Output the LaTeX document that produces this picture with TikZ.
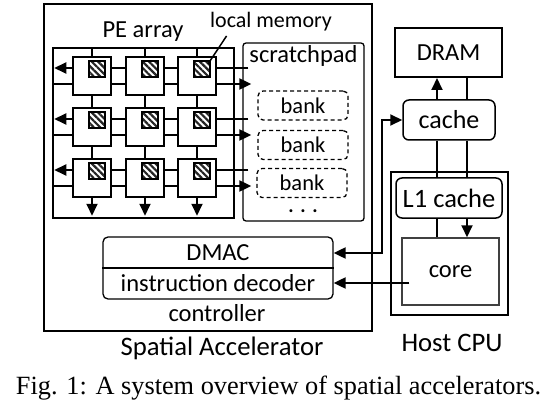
\documentclass[tikz,border=0pt]{standalone}
\usepackage{fontspec}
\setmainfont{Carlito}
\newfontfamily\capfont{Liberation Serif}
\usetikzlibrary{arrows.meta,positioning,calc,patterns.meta,backgrounds}

\tikzset{
    wire/.style={line width=2pt},
    box/.style={draw, line width=2pt, inner sep=0pt},
    rbox/.style={box, rounded corners=6pt, line width=1.5pt},
    pe/.style={box, fill=white, minimum size=38pt},
    locmem/.style={draw, line width=1.5pt, minimum size=16pt, inner sep=0pt,
        preaction={fill=white}, pattern={Lines[angle=-45,distance=4.5pt,line width=2.2pt]},
        pattern color=black!85},
    bank/.style={draw, dashed, dash pattern=on 4pt off 3pt, line width=1.3pt,
        rounded corners=5pt, minimum width=90pt, minimum height=29pt, inner sep=0pt,
        font=\fontsize{22.5}{27}\selectfont},
    biglabel/.style={font=\fontsize{26.7}{32}\selectfont},
}

\begin{document}
\begin{tikzpicture}[x=1pt,y=-1pt,font=\fontsize{24.5}{29}\selectfont,
    >={Triangle[length=12pt,width=11pt]}]
\useasboundingbox (0,0) rectangle (557,409);

% spatial accelerator
\node[box, minimum width=328pt, minimum height=327pt] (acc) at (208,167.5) {};
\node[biglabel] (acclabel) at (222,348) {Spatial Accelerator};

% PE array
\node[box, line width=1.5pt, minimum width=181pt, minimum height=170pt] (arr) at (143.5,133) {};
\node (arrlabel) at (143,32) {PE array};

\node[pe] (pe11) at (92,76) {};
\node[pe] (pe12) at (145,76) {};
\node[pe] (pe13) at (197,76) {};
\node[pe] (pe21) at (92,127) {};
\node[pe] (pe22) at (145,127) {};
\node[pe] (pe23) at (197,127) {};
\node[pe] (pe31) at (92,178) {};
\node[pe] (pe32) at (145,178) {};
\node[pe] (pe33) at (197,178) {};

\node[locmem] (m11) at ($(pe11)+(5,-7)$) {};
\node[locmem] (m12) at ($(pe12)+(5,-7)$) {};
\node[locmem] (m13) at ($(pe13)+(5,-7)$) {};
\node[locmem] (m21) at ($(pe21)+(5,-7)$) {};
\node[locmem] (m22) at ($(pe22)+(5,-7)$) {};
\node[locmem] (m23) at ($(pe23)+(5,-7)$) {};
\node[locmem] (m31) at ($(pe31)+(5,-7)$) {};
\node[locmem] (m32) at ($(pe32)+(5,-7)$) {};
\node[locmem] (m33) at ($(pe33)+(5,-7)$) {};

\node[font=\fontsize{22}{26}\selectfont] (lmlabel) at (271,22) {local memory};
\draw[line width=1.5pt] ($(m13)+(6,-5)$) -- ($(lmlabel.south west)+(20,1)$);

% scratchpad
\node[draw, line width=1.3pt, rounded corners=3pt, minimum width=121pt, minimum height=178pt] (scratch) at (303.5,132) {};
\node[below=0pt of scratch.north] (splabel) {scratchpad};
\node[bank] (bank1) at (303,105.5) {bank};
\node[bank] (bank2) at (303,145) {bank};
\node[bank] (bank3) at (302,183) {bank};
\node[inner sep=0pt, font=\fontsize{20}{24}\selectfont] (bdots) at (303,211) {\textbf{.\,\,.\,\,.}};

\begin{pgfonlayer}{background}
\draw[wire,->] (pe11 |- arr.north) -- ($(pe11 |- arr.south)+(0,-3)$);
\draw[wire,->] (pe12 |- arr.north) -- ($(pe12 |- arr.south)+(0,-3)$);
\draw[wire,->] (pe13 |- arr.north) -- ($(pe13 |- arr.south)+(0,-3)$);

\draw[wire,->] ($(scratch.west |- pe11)+(6,-8)$) -- ($(arr.west |- pe11)+(2,-8)$);
\draw[wire,->] ($(arr.west |- pe11)+(0,8)$) -- ($(scratch.west |- pe11)+(9,8)$);
\draw[wire,->] ($(scratch.west |- pe21)+(6,-8)$) -- ($(arr.west |- pe21)+(2,-8)$);
\draw[wire,->] ($(arr.west |- pe21)+(0,8)$) -- ($(scratch.west |- pe21)+(9,8)$);
\draw[wire,->] ($(scratch.west |- pe31)+(6,-8)$) -- ($(arr.west |- pe31)+(2,-8)$);
\draw[wire,->] ($(arr.west |- pe31)+(0,8)$) -- ($(scratch.west |- pe31)+(9,8)$);
\end{pgfonlayer}

% controller
\node[draw, line width=1.3pt, rounded corners=5pt, minimum width=230pt, minimum height=62pt] (ctrl) at (218,268) {};
\draw[line width=1.3pt] (ctrl.west) -- (ctrl.east);
\node (dmac) at (218,253) {DMAC};
\node (idec) at (218,283) {instruction decoder};
\node (ctrllabel) at (217,313) {controller};

% host side
\node[box, minimum width=107pt, minimum height=49pt] (dram) at (448.5,52.5) {DRAM};
\node[rbox, minimum width=92pt, minimum height=40pt, font=\fontsize{26}{31}\selectfont] (cache) at (449,120) {cache};
\node[box, minimum width=117pt, minimum height=143pt] (host) at (449.5,243.5) {};
\node[biglabel] (hostlabel) at (452,343) {Host CPU};
\node[rbox, minimum width=106pt, minimum height=40pt, font=\fontsize{26.5}{31}\selectfont] (l1) at (449,198) {L1 cache};
\node[box, draw=black!75, line width=1.5pt, minimum width=97pt, minimum height=67pt] (core) at (450.5,271.5) {core};

\coordinate (busl) at (437,0);
\coordinate (busr) at (467,0);
\draw[wire,->] (cache.north -| busl) -- (dram.south -| busl);
\draw[wire] (cache.north -| busr) -- (dram.south -| busr);
\draw[wire] (cache.south -| busl) -- (l1.north -| busl);
\draw[wire] (cache.south -| busr) -- (l1.north -| busr);
\draw[wire] (l1.south -| busl) -- (core.north -| busl);
\draw[wire,->] (l1.south -| busr) -- (core.north -| busr);

\draw[wire,<->] (ctrl.east |- dmac) -| ($(cache.west)+(-20,0)$) -- (cache.west);
\draw[wire,->] ($(core.west |- idec)+(8,0)$) -- (ctrl.east |- idec);

\node[font=\capfont\fontsize{26.3}{31}\selectfont] (caption) at (278.5,388) {Fig. 1: A system overview of spatial accelerators.};
\end{tikzpicture}
\end{document}
